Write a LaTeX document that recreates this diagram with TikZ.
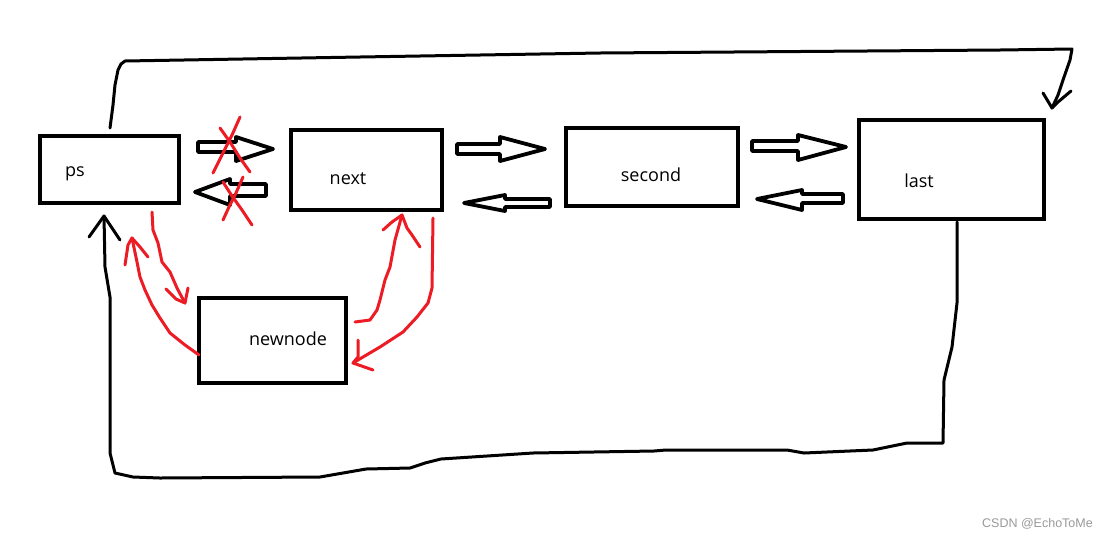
\documentclass[tikz,border=0pt]{standalone}
\usepackage{fontspec}
\setmainfont{Open Sans}
\newfontfamily\wmfont{Liberation Sans}
\definecolor{pred}{HTML}{ED1C24}
\definecolor{wmgray}{HTML}{9A9A9A}
\begin{document}
\begin{tikzpicture}[x=1pt,y=-1pt,
  box/.style={draw=black,line width=3.8pt,rectangle,inner sep=0pt,outer sep=0pt},
  lbl/.style={inner sep=0pt,font=\fontsize{18}{21}\selectfont,text=black},
  blockarrow/.style={draw=black,line width=3.8pt,line join=round,fill=white},
  redpen/.style={draw=pred,line width=3pt,line join=round,line cap=round},
  blackpen/.style={draw=black,line width=3pt,line join=round,line cap=round}]
\useasboundingbox (0,0) rectangle (1107,539);
\fill[white] (0,0) rectangle (1107,539);

% boxes
\node[box,minimum width=139.5pt,minimum height=67.5pt] (ps) at (109.5,169.5) {};
\node[box,minimum width=151.5pt,minimum height=80.5pt] (next) at (366.5,170) {};
\node[box,minimum width=172.5pt,minimum height=78.5pt] (second) at (652,167) {};
\node[box,minimum width=185.5pt,minimum height=99.5pt] (last) at (951.5,169.5) {};
\node[box,minimum width=147.5pt,minimum height=85.5pt] (newnode) at (272.5,340.5) {};

% labels
\node[lbl] (pslbl) at (75,174) {ps};
\node[lbl] (nextlbl) at (348,179) {next};
\node[lbl] (secondlbl) at (651,175) {second};
\node[lbl] (lastlbl) at (919,181) {last};
\node[lbl] (newnodelbl) at (288,339) {newnode};

% hollow block arrows
\draw[blockarrow] (198,142) -- (236,142) -- (236,137) -- (273,149) -- (236,161) -- (236,152) -- (198,152) -- cycle;
\draw[blockarrow] (195,192) -- (230,179) -- (230,184) -- (266,184) -- (266,196) -- (230,196) -- (230,205) -- cycle;
\draw[blockarrow] (457,144) -- (500,144) -- (500,137) -- (545,149) -- (500,161) -- (500,154) -- (457,154) -- cycle;
\draw[blockarrow] (464,203) -- (505,195) -- (505,199) -- (550,199) -- (550,207) -- (505,207) -- (505,211) -- cycle;
\draw[blockarrow] (752,141) -- (798,141) -- (798,135) -- (846,147) -- (798,160) -- (798,151) -- (752,151) -- cycle;
\draw[blockarrow] (757,199) -- (802,190) -- (802,194) -- (843,194) -- (843,203) -- (802,203) -- (802,210) -- cycle;

% red crosses
\draw[redpen] (240,117) -- (232,135) -- (222,155) -- (213,173);
\draw[redpen] (220,128) -- (230,142) -- (240,158) -- (250,172);
\draw[redpen] (243,177) -- (236,193) -- (229,207) -- (223,220);
\draw[redpen] (223,182) -- (232,196) -- (242,210) -- (252,225);

% red arrows
\coordinate (r1s) at (152,212);
\coordinate (r1e) at (185,303);
\draw[redpen] (r1s) -- (153,230) -- (158,243) -- (162,262) -- (170,272) -- (177,288) -- (r1e);
\draw[redpen] (166,289) -- (176,299) -- (r1e) -- (188,288);

\coordinate (r2s) at (199,355);
\coordinate (r2e) at (132,238);
\draw[redpen] (r2s) -- (185,345) -- (170,333) -- (160,318) -- (152,305) -- (145,290) -- (140,277) -- (137,262) -- (r2e);
\draw[redpen] (125,265) -- (128,245) -- (r2e) -- (140,247) -- (148,257);

\coordinate (r3s) at (355,322);
\coordinate (r3e) at (402,215);
\draw[redpen] (r3s) -- (370,320) -- (377,310) -- (380,300) -- (385,280) -- (390,267) -- (395,240) -- (r3e);
\draw[redpen] (383,230) -- (392,222) -- (r3e) -- (407,228) -- (412,235) -- (420,247);

\coordinate (r4s) at (433,218);
\coordinate (r4e) at (353,363);
\draw[redpen] (r4s) -- (432,288) -- (428,303) -- (417,317) -- (403,332) -- (380,347) -- (363,357) -- (r4e);
\draw[redpen] (358,340) -- (358,357) -- (r4e) -- (373,370);

% black loop on top: ps -> last
\coordinate (t1s) at (110,128);
\coordinate (t1e) at (1052,108);
\draw[blackpen] (t1s) -- (113,105) -- (115,85) -- (118,70) -- (121,64) -- (125,61) -- (360,57) -- (600,53) -- (1000,50) -- (1072,49) -- (1070,60) -- (1063,80) -- (1058,95) -- (t1e);
\draw[blackpen] (1043,93) -- (t1e) -- (1058,102) -- (1071,91);

% black loop at bottom: last -> ps
\coordinate (b1s) at (957,222);
\coordinate (b1e) at (104,216);
\draw[blackpen] (b1s) -- (957,303) -- (952,347) -- (944,380) -- (943,443) -- (907,443) -- (873,450) -- (804,453) -- (787,450) -- (666,450) -- (654,451) -- (533,453) -- (441,459) -- (425,463) -- (410,468) -- (366,469) -- (320,477) -- (160,478) -- (133,477) -- (115,473) -- (110,453) -- (110,297) -- (105,267) -- (b1e);
\draw[blackpen] (89,237) -- (b1e) -- (120,240);

% watermark
\node[inner sep=0pt,anchor=east,text=wmgray,font=\wmfont\fontsize{12.5}{14}\selectfont] (wm) at (1093,524) {CSDN @EchoToMe};
\end{tikzpicture}
\end{document}
